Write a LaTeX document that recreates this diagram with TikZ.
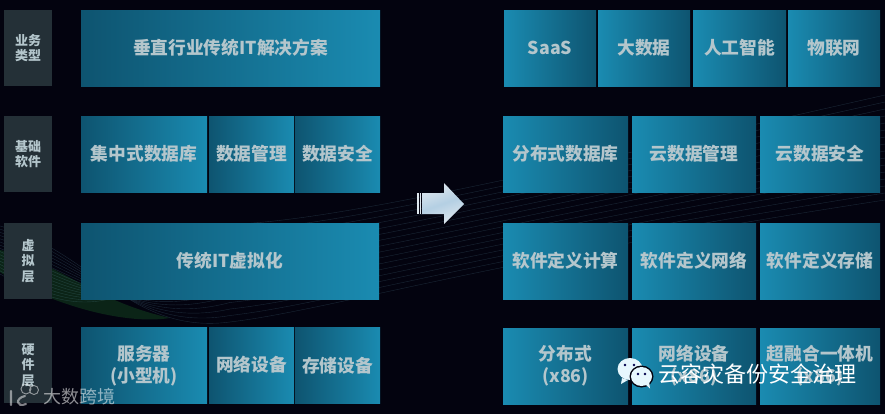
\documentclass[tikz,border=0pt]{standalone}
\usepackage{fontspec}
\setmainfont{Noto Sans CJK SC}
\def\myboxh{76}
\definecolor{bgdark}{HTML}{03030F}
\definecolor{labelgray}{HTML}{243037}
\definecolor{boxdark}{HTML}{0E5470}
\definecolor{boxlight}{HTML}{1A8BB1}
\definecolor{boxtext}{HTML}{B4C6CC}
\definecolor{arrowlight}{HTML}{DEE7EE}
\definecolor{arrowblue}{HTML}{B4CFE3}
\definecolor{wavegreen}{HTML}{12401F}
\tikzset{
  layerbox/.style={fill=labelgray,text=boxtext,inner sep=0pt,align=center,
    minimum width=36pt,minimum height=57pt,
    font=\fontsize{9.75pt}{11.6pt}\selectfont\bfseries},
  tradbox/.style={left color=boxdark,right color=boxlight,text=boxtext,inner sep=0pt,
    align=center,font=\fontsize{13.3pt}{16.5pt}\selectfont\bfseries},
  cloudbox/.style={left color=boxlight,right color=boxdark,text=boxtext,inner sep=0pt,
    align=center,font=\fontsize{13.3pt}{16.5pt}\selectfont\bfseries},
  waveline/.style={draw=white!55!cyan,line width=0.3pt,opacity=0.17},
}
\begin{document}
\begin{tikzpicture}[x=0.75pt,y=-0.75pt]
\useasboundingbox (0,0) rectangle (885,414);
% the background and its wave
\fill[bgdark] (0,0) rectangle (885,414);
\fill[wavegreen,opacity=0.55]
  (0,250) .. controls (60,262) and (90,300) .. (170,318)
  .. controls (120,326) and (40,300) .. (0,272) -- cycle;
\foreach \i in {0,...,15} {
  \draw[waveline]
    (0,{226+3.2*\i}) .. controls (90,{250+5*\i}) and (130,{335-2*\i}) .. (230,{322-6.5*\i})
    .. controls (330,{310-6*\i}) and (480,{262-5*\i}) .. (885,{200-7*\i});
}
% the layer labels
\node[layerbox] (type) at (28,48) {业务\\类型};
\node[layerbox] (base) at (28,154) {基础\\软件};
\node[layerbox] (virt) at (28,261) {虚\\拟\\层};
\node[layerbox] (hard) at (28,365) {硬\\件\\层};
% the traditional stack, left of the arrow
\foreach \nm/\xa/\xb/\ym/\txt in {
  tradapp/81/380/48/{垂直行业传统IT解决方案},
  traddb/81/207/154/{集中式数据库},
  tradmgmt/209/294/154/{数据管理},
  tradsafe/295/380/154/{数据安全},
  tradvirt/81/379/261/{传统IT虚拟化},
  tradsrv/81/207/365.5/{服务器\\(小型机)},
  tradnet/209/294/365/{网络设备},
  tradstore/295/380/365.5/{存储设备}} {
  \node[tradbox,minimum width={(\xb-\xa)*0.75pt},minimum height={\myboxh*0.75pt}]
    (\nm) at ({(\xa+\xb)/2},\ym) {\txt};
}
% the cloud stack, right of the arrow
\foreach \nm/\xa/\xb/\ym/\txt in {
  saas/504/596/48/{SaaS},
  bigdata/598/690/48/{大数据},
  aibox/693/786/48/{人工智能},
  iot/788/880/48/{物联网},
  clouddb/503/628/154/{分布式数据库},
  cloudmgmt/632/756/154/{云数据管理},
  cloudsafe/760/880/154/{云数据安全},
  sdcalc/503/628/261/{软件定义计算},
  sdnet/632/756/261/{软件定义网络},
  sdstore/760/880/261/{软件定义存储},
  hwdist/503/628/366/{分布式\\(x86)},
  hwnet/632/756/366/{网络设备\\(x86)},
  hwhci/760/880/366/{超融合一体机\\(x86)}} {
  \node[cloudbox,minimum width={(\xb-\xa)*0.75pt},minimum height={\myboxh*0.75pt}]
    (\nm) at ({(\xa+\xb)/2},\ym) {\txt};
}
% the big arrow
\shade[left color=arrowlight,right color=arrowlight,middle color=arrowblue,shading angle=20]
  (422,193) -- (444,193) -- (444,183) -- (464,204) -- (444,224) -- (444,214) -- (422,214) -- cycle;
\fill[arrowlight] (417,193) rectangle (418.5,214);
\fill[arrowlight] (419.7,193) rectangle (421.2,214);
% the account mark
\fill[white!90!cyan] (630,369) ellipse [x radius=12.5,y radius=11];
\fill[white!90!cyan] (622,378) -- (621,384) -- (628,380) -- cycle;
\fill[bgdark] (641.5,376.5) ellipse [x radius=12,y radius=11];
\fill[white!90!cyan] (641.5,376.5) ellipse [x radius=10.5,y radius=9.5];
\fill[white!90!cyan] (645,384) -- (650,388.5) -- (649,381) -- cycle;
\foreach \ex/\ey in {625/365,634/365,638/374,645/374}
  \fill[black!70!blue] (\ex,\ey) circle [radius=1.4];
\node[text=white,inner sep=0pt,font=\fontsize{16.5pt}{20pt}\selectfont] (account) at (757.5,374) {云容灾备份安全治理};
% the corner mark
\draw[white,opacity=0.5,line width=1.6pt,line cap=round] (11,391) -- (11,405)
  (25,396) .. controls (15,398) and (16,408) .. (26,404);
\draw[white,opacity=0.5,line width=0.7pt] (26,389) circle [radius=5] (34,390) circle [radius=4.5];
\node[text=white,opacity=0.55,inner sep=0pt,font=\fontsize{13.5pt}{16pt}\selectfont] (brand) at (79.5,397) {大数跨境};
\end{tikzpicture}
\end{document}
